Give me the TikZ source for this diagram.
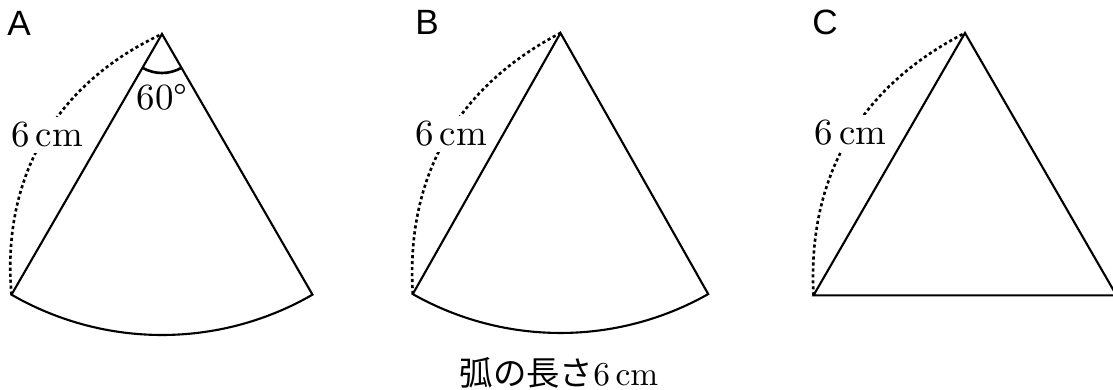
\documentclass[tikz,border=0pt]{standalone}
\usepackage{fontspec}
\usepackage{tikz}
\usetikzlibrary{calc}
\newfontfamily\jpfont{Noto Sans CJK JP}
\newfontfamily\namefont{Liberation Sans}
\tikzset{
  edge/.style={line width=0.6pt, line join=miter},
  dotarc/.style={line width=0.75pt, dash pattern=on 0.9pt off 0.8pt},
  anglearc/.style={line width=0.75pt},
  lenlabel/.style={fill=white, inner sep=1.5pt, font=\fontsize{10.5}{12}\selectfont},
  anglabel/.style={inner sep=0pt, font=\fontsize{10.5}{12}\selectfont},
  figlabel/.style={inner sep=0pt, font=\namefont\fontsize{10}{12}\selectfont},
  arclabel/.style={inner sep=0pt, font=\fontsize{9.5}{11}\selectfont}
}

\begin{document}
\begin{tikzpicture}
  \useasboundingbox (0,0) rectangle (11.13,3.90);
  % A: sector, 60 degrees
  \coordinate (Aapex)  at (1.62,3.56);
  \coordinate (Aleft)  at ($(Aapex)+(240:3.01)$);
  \coordinate (Aright) at ($(Aapex)+(300:3.01)$);
  \draw[edge] (Aapex) -- (Aright) arc[start angle=300, end angle=240, radius=3.01] -- cycle;
  \draw[dotarc] (Aleft) to[bend left=35] (Aapex);
  \draw[anglearc] ($(Aapex)+(240:0.39)$) arc[start angle=240, end angle=300, radius=0.39];
  \node[lenlabel] (Alen)  at (0.47,2.55) {6\,cm};
  \node[anglabel] (Aang)  at (1.62,2.93) {60\textdegree};
  \node[figlabel] (Aname) at (0.19,3.67) {A};
  % B: sector, arc length 6 cm
  \coordinate (Bapex)  at (5.605,3.57);
  \coordinate (Bleft)  at ($(Bapex)+(240.5:3.0)$);
  \coordinate (Bright) at ($(Bapex)+(299.5:3.0)$);
  \draw[edge] (Bapex) -- (Bright) arc[start angle=299.5, end angle=240.5, radius=3.0] -- cycle;
  \draw[dotarc] (Bleft) to[bend left=33] (Bapex);
  \node[lenlabel] (Blen)  at (4.51,2.56) {6\,cm};
  \node[figlabel] (Bname) at (4.27,3.68) {B};
  \node[arclabel] (Barc)  at (5.59,0.17) {{\jpfont 弧の長さ}6\,cm};
  % C: equilateral triangle
  \coordinate (Capex)  at (9.65,3.57);
  \coordinate (Cleft)  at ($(Capex)+(240:3.03)$);
  \coordinate (Cright) at ($(Capex)+(300:3.03)$);
  \draw[edge] (Capex) -- (Cright) -- (Cleft) -- cycle;
  \draw[dotarc] (Cleft) to[bend left=33] (Capex);
  \node[lenlabel] (Clen)  at (8.505,2.57) {6\,cm};
  \node[figlabel] (Cname) at (8.25,3.68) {C};
\end{tikzpicture}
\end{document}
